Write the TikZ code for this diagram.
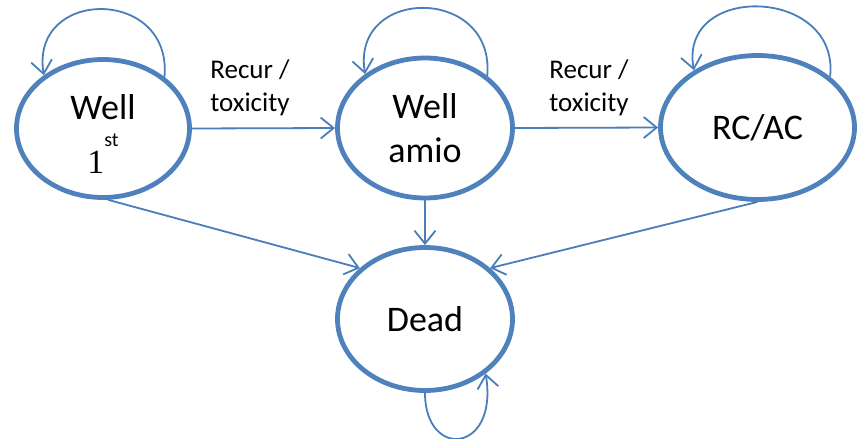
\documentclass[tikz,border=0pt]{standalone}
\usepackage{fontspec}
\setmainfont{Carlito}
\newfontfamily\serifone{Liberation Serif}
\usetikzlibrary{shapes.geometric,arrows.meta}
\definecolor{nodeblue}{RGB}{79,129,189}
\definecolor{lineblue}{RGB}{74,126,187}
\begin{document}
\begin{tikzpicture}[x=1pt,y=-1pt,
  state/.style={ellipse, draw=nodeblue, fill=white, line width=4.8pt, inner sep=0pt, align=center, font=\fontsize{36}{44}\selectfont},
  trans/.style={draw=lineblue, line width=1.8pt, -{Straight Barb[length=13pt,width=21pt]}},
  lbl/.style={align=center, inner sep=0pt, font=\fontsize{27}{33}\selectfont}]
\useasboundingbox (0,0) rectangle (857,439);

\node[state, minimum width=173pt, minimum height=138pt] (w1) at (103,128.5)
  {\rule{0pt}{36pt}Well\\[10pt]{\serifone\fontsize{34}{34}\selectfont 1}\smash{\raisebox{27pt}{\fontsize{20}{20}\selectfont st}}};
\node[state, minimum width=175pt, minimum height=140pt] (wa) at (425,128) {Well\\amio};
\node[state, minimum width=194pt, minimum height=144pt] (rc) at (757.5,127.5) {RC/AC};
\node[state, minimum width=175pt, minimum height=143pt] (dead) at (425,319) {Dead};

\node[lbl] (l1) at (250,88) {Recur /\\toxicity};
\node[lbl] (l2) at (589,88) {Recur /\\toxicity};

\draw[trans] (w1.east) -- (wa.west);
\draw[trans] (wa.east) -- (rc.west);
\draw[trans] (w1.-86) -- (dead.142);
\draw[trans] (wa.south) -- (dead.north);
\draw[trans] (rc.-90) -- (dead.38);

\draw[trans] (w1.40) .. controls +(8,-90) and +(-14,-88) .. (w1.138);
\draw[trans] (wa.40) .. controls +(8,-90) and +(-14,-88) .. (wa.138);
\draw[trans] (rc.35) .. controls +(10,-90) and +(-16,-88) .. (rc.138);
\draw[trans] (dead.-90) .. controls +(0,67) and +(13,80) .. (dead.-42);
\end{tikzpicture}
\end{document}
